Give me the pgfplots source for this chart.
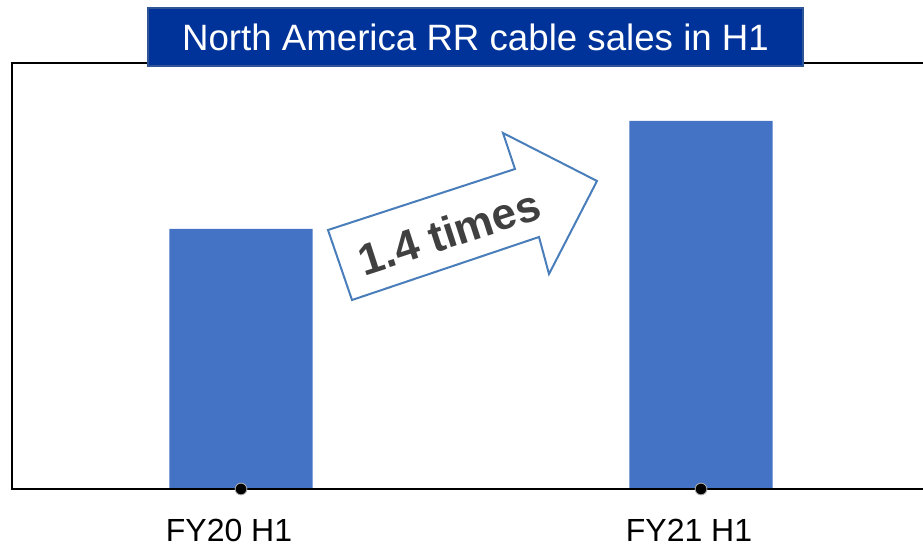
\documentclass[border=0pt]{standalone}
\usepackage{fontspec}
\setmainfont{Liberation Sans}
\usepackage{pgfplots}
\pgfplotsset{compat=1.18}
\definecolor{barblue}{HTML}{4472C4}
\definecolor{titleblue}{HTML}{003399}
\definecolor{titleedge}{HTML}{2F5597}
\definecolor{arrowblue}{HTML}{4A7EBB}
\definecolor{txtgray}{HTML}{404040}
\begin{document}
\begin{tikzpicture}
\useasboundingbox (0,0) rectangle (923*0.75pt,543*0.75pt);
\begin{axis}[
  at={(12*0.75pt,54*0.75pt)}, anchor=south west,
  scale only axis, width=911*0.75pt, height=426*0.75pt,
  xmin=-0.4978, xmax=1.4826, ymin=0, ymax=1.638,
  axis line style={draw=none},
  xtick={0,1}, xticklabels={FY20 H1, FY21 H1},
  ytick=\empty, major tick length=0pt,
  xticklabel style={anchor=base, yshift=-39pt, xshift=-9pt, font=\fontsize{24}{28}\selectfont},
  clip=false,
]
\addplot[ybar, bar width=0.311, fill=barblue, draw=none] coordinates {(0,1) (1,1.415)};
\draw[line width=1.3pt, black] (rel axis cs:1,1) -- (rel axis cs:0,1) -- (rel axis cs:0,0) -- (rel axis cs:1,0);
\addplot[only marks, mark=*, mark size=4.4pt, mark options={fill=black, draw=gray!70, line width=0.7pt}] coordinates {(0,0) (1,0)};
\end{axis}
\begin{scope}[x=0.75pt, y=0.75pt]
\draw[fill=titleblue, draw=titleedge, line width=1.2pt] (148,477) rectangle (803,535);
\node[text=white, font=\fontsize{27.5}{33}\selectfont] at (475.5,506) {North America RR cable sales in H1};
\draw[fill=white, draw=arrowblue, line width=1.5pt, line join=miter]
  (352,243) -- (328,313) -- (515,374) -- (503,410) -- (597,362) -- (549,269) -- (539,306) -- cycle;
\node[text=txtgray, rotate=18, font=\fontsize{33}{38}\selectfont\bfseries] at (449,311) {1.4 times};
\end{scope}
\end{tikzpicture}
\end{document}
